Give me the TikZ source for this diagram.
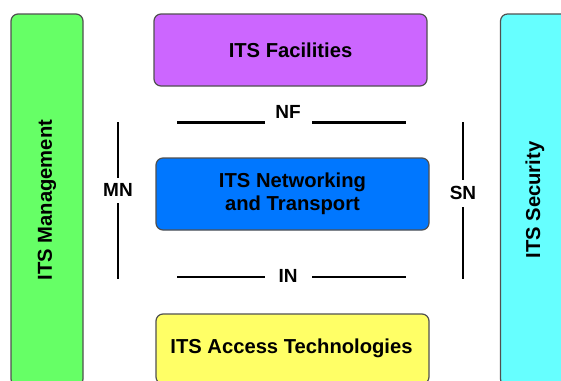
\documentclass[tikz,border=0pt]{standalone}
\usepackage{fontspec}
\setmainfont{Liberation Sans}
\definecolor{cgreen}{HTML}{66FF66}
\definecolor{cpurple}{HTML}{CC66FF}
\definecolor{cblue}{HTML}{0077FF}
\definecolor{ccyan}{HTML}{66FFFF}
\definecolor{cyellow}{HTML}{FFFF66}
\definecolor{cborder}{HTML}{505050}
\tikzset{
  layerbox/.style={draw=cborder, line width=1.2pt, rounded corners=7pt, inner sep=0pt,
    font=\fontsize{20.2}{23.5}\selectfont\bfseries, align=center, text=black},
  boxtext/.style={inner sep=0pt, font=\fontsize{20.2}{23.5}\selectfont\bfseries, text=black},
  seplabel/.style={inner sep=0pt, font=\fontsize{19}{20}\selectfont\bfseries, text=black},
  sepline/.style={line width=2.8pt, black}
}
\begin{document}
\begin{tikzpicture}[x=1pt,y=-1pt]
\useasboundingbox (0,0) rectangle (561,380);
\clip (0,0) rectangle (561,380);
\fill[white] (0,0) rectangle (561,380);
% side boxes
\node[layerbox, fill=cgreen, minimum width=72pt, minimum height=372pt] (mgmt) at (47,200) {};
\node[boxtext, rotate=90] (mgmtt) at (mgmt.center) {ITS Management};
\node[layerbox, fill=ccyan, minimum width=80pt, minimum height=372pt] (sec) at (540.5,200) {};
\node[boxtext, rotate=90] (sect) at (535,200) {ITS Security};
% central boxes
\node[layerbox, fill=cpurple, minimum width=273pt, minimum height=72pt] (fac) at (290.5,50) {ITS Facilities};
\node[layerbox, fill=cblue, minimum width=273pt, minimum height=72pt] (net) at (292.5,194) {ITS Networking\\and Transport};
\node[layerbox, fill=cyellow, minimum width=273pt, minimum height=70pt] (acc) at (292.5,349) {};
\node[boxtext] (acct) at (291.5,348) {ITS Access Technologies};
% separators
\node[seplabel] (nf) at (288,112) {NF};
\coordinate (nf1) at (177,122.5);
\coordinate (nf2) at (265,122.5);
\coordinate (nf3) at (312,122.5);
\coordinate (nf4) at (406,122.5);
\draw[sepline] (nf1) -- (nf2);
\draw[sepline] (nf3) -- (nf4);
\node[seplabel] (in) at (288,276) {IN};
\coordinate (in1) at (177,277);
\coordinate (in2) at (265,277);
\coordinate (in3) at (312,277);
\coordinate (in4) at (406,277);
\draw[sepline] (in1) -- (in2);
\draw[sepline] (in3) -- (in4);
\node[seplabel] (mn) at (118,190) {MN};
\coordinate (mn1) at (118,122);
\coordinate (mn2) at (118,178);
\coordinate (mn3) at (118,203);
\coordinate (mn4) at (118,279);
\draw[sepline] (mn1) -- (mn2);
\draw[sepline] (mn3) -- (mn4);
\node[seplabel] (sn) at (463,193) {SN};
\coordinate (sn1) at (463,122);
\coordinate (sn2) at (463,180);
\coordinate (sn3) at (463,207);
\coordinate (sn4) at (463,279);
\draw[sepline] (sn1) -- (sn2);
\draw[sepline] (sn3) -- (sn4);
\end{tikzpicture}
\end{document}
